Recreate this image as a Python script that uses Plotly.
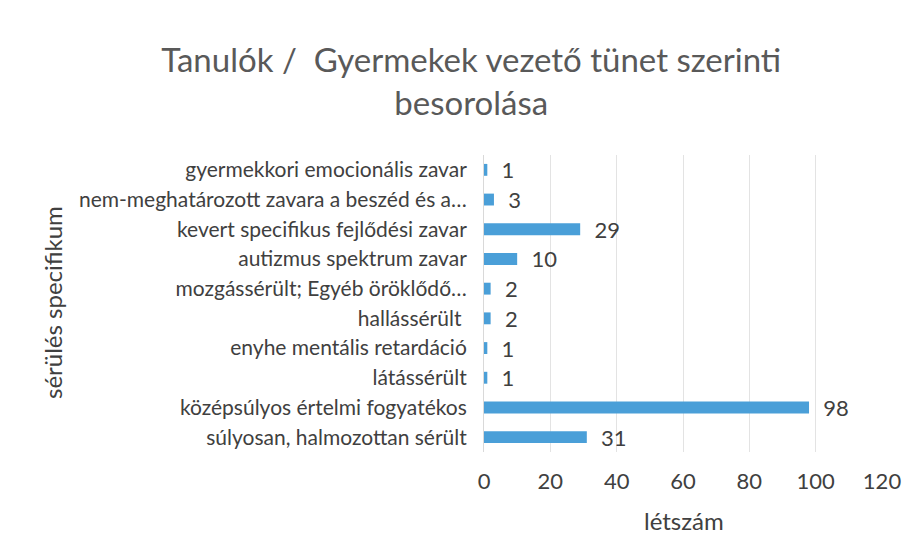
import plotly.graph_objects as go

categories = [
    "súlyosan, halmozottan sérült",
    "középsúlyos értelmi fogyatékos",
    "látássérült",
    "enyhe mentális retardáció",
    "hallássérült ",
    "mozgássérült; Egyéb öröklődő…",
    "autizmus spektrum zavar",
    "kevert specifikus fejlődési zavar",
    "nem-meghatározott zavara a beszéd és a…",
    "gyermekkori emocionális zavar",
]
values = [31, 98, 1, 1, 2, 2, 10, 29, 3, 1]
x_ticks = [0, 20, 40, 60, 80, 100, 120]

title_text = "Tanulók /  Gyermekek vezető tünet szerinti<br>besorolása"
x_title = "létszám"
y_title = "sérülés specifikum"

FONT = "Lato, 'Open Sans', sans-serif"
TXT = "#404040"

L, R, T, B = 484, 33, 155, 108
W, H = 915, 560
plot_w = W - L - R
plot_h = H - T - B


def px_x(px):
    return (px - L) / plot_w


def px_y(py):
    return (H - B - py) / plot_h


fig = go.Figure(
    go.Bar(
        x=values,
        y=categories,
        orientation="h",
        marker=dict(color="#4A9FD8", line=dict(width=0)),
        width=0.4,
        text=["\u00a0\u00a0" + str(v) for v in values],
        textposition="outside",
        constraintext="none",
        textfont=dict(size=22, color=TXT, family=FONT),
        cliponaxis=False,
        hoverinfo="skip",
    )
)

fig.update_layout(
    width=W,
    height=H,
    paper_bgcolor="white",
    plot_bgcolor="white",
    margin=dict(l=L, r=R, t=T, b=B, autoexpand=False),
    title=dict(
        text=title_text,
        x=0.515,
        xanchor="center",
        y=0.872,
        yanchor="top",
        font=dict(size=33, color="#595959", family=FONT),
    ),
    showlegend=False,
    xaxis=dict(
        range=[0, 120],
        tickvals=x_ticks,
        showgrid=True,
        gridcolor="#E3E3E3",
        gridwidth=1,
        zeroline=False,
        showline=False,
        automargin=False,
        tickfont=dict(size=22, color=TXT, family=FONT),
        ticks="",
        ticklabelstandoff=14,
    ),
    yaxis=dict(
        categoryorder="array",
        categoryarray=categories,
        showgrid=False,
        zeroline=False,
        showline=True,
        linecolor="#D9D9D9",
        automargin=False,
        ticks="",
        ticklabelstandoff=12,
        tickfont=dict(size=21, color=TXT, family=FONT),
    ),
    annotations=[
        dict(
            text=y_title,
            x=px_x(52),
            y=px_y(303),
            xref="paper",
            yref="paper",
            xanchor="center",
            yanchor="middle",
            showarrow=False,
            textangle=-90,
            font=dict(size=24, color=TXT, family=FONT),
        ),
        dict(
            text=x_title,
            x=px_x(684),
            y=px_y(520),
            xref="paper",
            yref="paper",
            xanchor="center",
            yanchor="middle",
            showarrow=False,
            font=dict(size=24, color=TXT, family=FONT),
        ),
    ],
)

fig.write_html(
    "out.html",
    config={"displayModeBar": False},
    post_script="document.body.style.margin='0px';document.body.style.overflow='hidden';",
)
